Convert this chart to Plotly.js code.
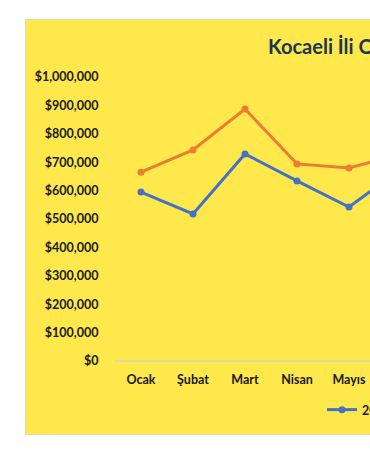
<!DOCTYPE html>
<html><head><meta charset="utf-8">
<script src="https://cdn.plot.ly/plotly-3.0.1.min.js"></script>
<style>
html,body{margin:0;padding:0;background:#fff;overflow:hidden;width:370px;height:450px;}
#chart{position:absolute;left:25px;top:19px;width:620px;height:414px;border:1px solid #e2dcb0;}
</style></head>
<body><div id="chart"></div>
<script>
const months = ["Ocak","Şubat","Mart","Nisan","Mayıs","Haziran"];
const series1Name = "2019";
const series1 = [595000, 518000, 729000, 634000, 542000, 676000];
const series2Name = "2020";
const series2 = [665000, 743000, 887000, 694000, 680000, 729000];
const yTicks = [0,100000,200000,300000,400000,500000,600000,700000,800000,900000,1000000];
const yTickText = ["$0","$100,000","$200,000","$300,000","$400,000","$500,000","$600,000","$700,000","$800,000","$900,000","$1,000,000"];
const titleText = "Kocaeli İli Otomotiv İhracatı";

const W = 620, H = 414;
const font = {family:"Lato, 'Noto Sans', sans-serif", size:12.5, color:"#1a1a1a", weight:700};
const data = [
  {x:months, y:series1, name:series1Name, type:"scatter", mode:"lines+markers",
   line:{color:"#4472C4", width:3}, marker:{color:"#4472C4", size:7}},
  {x:months, y:series2, name:series2Name, type:"scatter", mode:"lines+markers",
   line:{color:"#ED7D31", width:3}, marker:{color:"#ED7D31", size:7}}
];
const layout = {
  width:W, height:H,
  paper_bgcolor:"#FEE84C", plot_bgcolor:"#FEE84C",
  margin:{l:89, r:W-89-312, t:57, b:73},
  font:font,
  title:{text:"<b>"+titleText+"</b>", font:{family:"Lato, 'Noto Sans', sans-serif", size:20, color:"#1B3556"},
         xref:"container", yref:"container", x:242/W, xanchor:"left", y:1-27/H, yanchor:"middle"},
  xaxis:{type:"category", range:[-0.5,5.5], showgrid:false, zeroline:false, showline:false,
         ticks:"outside", ticklen:7, tickcolor:"rgba(0,0,0,0)", tickfont:font, fixedrange:true},
  yaxis:{range:[0,1000000], tickvals:yTicks, ticktext:yTickText, showgrid:false,
         zeroline:true, zerolinecolor:"#e0d8a0", zerolinewidth:1.5, showline:false,
         ticks:"outside", ticklen:13, tickcolor:"rgba(0,0,0,0)", tickfont:font, fixedrange:true},
  showlegend:true,
  legend:{orientation:"h", xref:"container", yref:"container", x:296/W, xanchor:"left",
          y:1-390/H, yanchor:"middle", font:font, bgcolor:"rgba(0,0,0,0)"}
};
Plotly.newPlot("chart", data, layout, {displayModeBar:false, staticPlot:true});
</script></body></html>
